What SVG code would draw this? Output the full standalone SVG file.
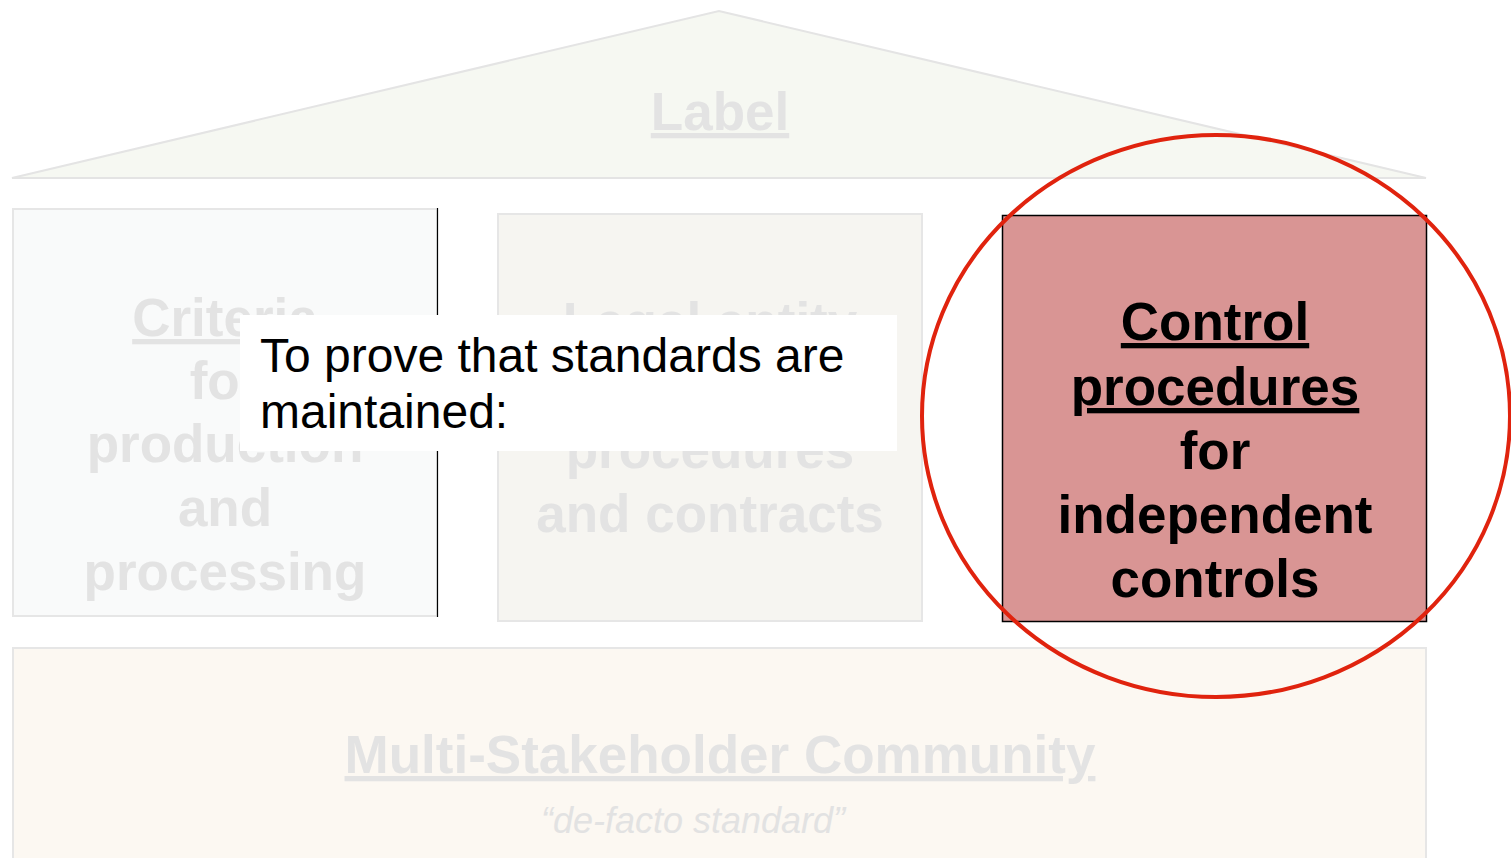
<svg xmlns="http://www.w3.org/2000/svg" width="1511" height="858" viewBox="0 0 1511 858">
<style>
.f{font-family:"Liberation Sans",Arial,sans-serif}
.ghost{font-weight:bold;font-size:53px;fill:#e3e3e3;text-anchor:middle}
.u{text-decoration:underline}
.main{font-weight:bold;font-size:53px;fill:#000;text-anchor:middle}
.box{stroke:#e6e6e6;stroke-width:2}
</style>
<rect width="1511" height="858" fill="#fff"/>
<g id="roof">
<polygon points="12,178 719,11 1426,178" fill="#f6f8f2" stroke="#e4e4e4" stroke-width="2"/>
<text class="f ghost u" x="720" y="130">Label</text>
</g>
<g id="criteria">
<rect class="box" x="13" y="209" width="424" height="407" fill="#f9fafa"/>
<line x1="437.5" y1="208" x2="437.5" y2="617" stroke="#000" stroke-width="1.2"/>
<text class="f ghost" x="225"><tspan class="u" x="225" y="336">Criteria</tspan><tspan x="225" y="399">for</tspan><tspan x="225" y="462">production</tspan><tspan x="225" y="526">and</tspan><tspan x="225" y="590">processing</tspan></text>
</g>
<g id="legal">
<rect class="box" x="498" y="214" width="424" height="407" fill="#f6f5f1"/>
<text class="f ghost" x="710"><tspan class="u" x="710" y="340">Legal entity</tspan><tspan x="710" y="468">procedures</tspan><tspan x="710" y="532">and contracts</tspan></text>
</g>
<g id="community">
<rect class="box" x="13" y="648" width="1413" height="220" fill="#fcf8f2"/>
<text class="f ghost u" x="720" y="773">Multi-Stakeholder Community</text>
<text class="f" x="693" y="833" font-size="36" font-style="italic" fill="#e2e2e2" text-anchor="middle">“de-facto standard”</text>
</g>
<g id="control">
<rect x="1002.5" y="215.5" width="424" height="406" fill="#d99594" stroke="#000" stroke-width="1.5"/>
<text class="f main"><tspan class="u" x="1215" y="340">Control</tspan><tspan class="u" x="1215" y="405">procedures</tspan><tspan x="1215" y="469">for</tspan><tspan x="1215" y="533">independent</tspan><tspan x="1215" y="597">controls</tspan></text>
</g>
<g id="callout">
<rect x="240" y="315" width="657" height="136" fill="#fff"/>
<text class="f" font-size="48" fill="#000"><tspan x="260" y="372">To prove that standards are</tspan><tspan x="260" y="428">maintained:</tspan></text>
</g>
<g id="connectors">
<ellipse cx="1216" cy="416" rx="294" ry="281" fill="none" stroke="#e0230e" stroke-width="4"/>
</g>
</svg>
